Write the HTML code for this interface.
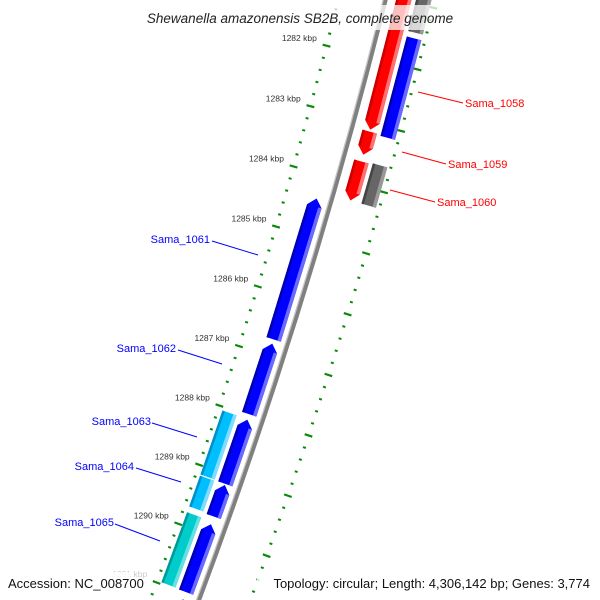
<!DOCTYPE html>
<html><head><meta charset="utf-8"><style>
html,body{margin:0;padding:0;background:#fff;width:600px;height:600px;overflow:hidden;}
svg{display:block;overflow:hidden;font-family:"Liberation Sans",sans-serif;}
</style></head><body>
<svg id="map" width="600" height="600" viewBox="0 0 600 600" xmlns="http://www.w3.org/2000/svg">
<g id="ticks"></g>
<g id="backbone"></g>
<g id="genes"></g>
<g id="labels">
<line x1="418" y1="92" x2="463" y2="103" stroke="#f00" stroke-width="1"/>
<text x="465" y="107" font-size="11" fill="#f00">Sama_1058</text>
<line x1="402" y1="152" x2="446" y2="164" stroke="#f00" stroke-width="1"/>
<text x="448" y="168" font-size="11" fill="#f00">Sama_1059</text>
<line x1="390" y1="190" x2="435" y2="202" stroke="#f00" stroke-width="1"/>
<text x="437" y="206" font-size="11" fill="#f00">Sama_1060</text>
<line x1="212" y1="241" x2="258" y2="255" stroke="#00f" stroke-width="1"/>
<text x="210" y="243" text-anchor="end" font-size="11" fill="#00f">Sama_1061</text>
<line x1="178" y1="350" x2="222" y2="364" stroke="#00f" stroke-width="1"/>
<text x="176" y="352" text-anchor="end" font-size="11" fill="#00f">Sama_1062</text>
<line x1="152" y1="423" x2="197" y2="437" stroke="#00f" stroke-width="1"/>
<text x="151" y="425" text-anchor="end" font-size="11" fill="#00f">Sama_1063</text>
<line x1="136" y1="468" x2="181" y2="482" stroke="#00f" stroke-width="1"/>
<text x="134" y="470" text-anchor="end" font-size="11" fill="#00f">Sama_1064</text>
<line x1="115" y1="524" x2="160" y2="541" stroke="#00f" stroke-width="1"/>
<text x="114" y="526" text-anchor="end" font-size="11" fill="#00f">Sama_1065</text>
</g>
<rect x="125" y="5" width="350" height="25" fill="#fff" opacity="0.75"/>
<text x="300" y="23" text-anchor="middle" font-size="13.5" font-style="italic" fill="#222">Shewanella amazonensis SB2B, complete genome</text>
<rect x="5" y="572" width="125" height="20" fill="#fff" opacity="0.8"/>
<rect x="257" y="572" width="338" height="20" fill="#fff" opacity="0.8"/>
<text x="8" y="588" font-size="13" fill="#111">Accession: NC_008700</text>
<text x="590" y="588" text-anchor="end" font-size="13" fill="#111">Topology: circular; Length: 4,306,142 bp; Genes: 3,774</text>
</svg>
<script>
const geneStart = [1280.8, 1281.54, 1283.61, 1280.5, 1283.14, 1283.63, 1284.39, 1286.80, 1288.07, 1289.17, 1289.83, 1291.10, 1288.06, 1289.16, 1289.78];
const geneEnd   = [1281.45, 1283.16, 1284.27, 1283.11, 1283.52, 1284.27, 1286.73, 1287.98, 1289.15, 1289.70, 1290.98, 1292.2, 1289.14, 1289.68, 1290.97];
const geneSlot  = ["outer","outer","outer","red","red","red","inner","inner","inner","inner","inner","inner","cyan","cyan","cyan"];
const geneDir   = [0,0,0,1,1,1,-1,-1,-1,-1,-1,-1,0,0,0];
const geneColor = ["gray","blue","gray","red","red","red","blue","blue","blue","blue","blue","blue","sky","sky","teal"];
const majorTicks = [1281,1282,1283,1284,1285,1286,1287,1288,1289,1290,1291];
const tickLabels = ["1281 kbp","1282 kbp","1283 kbp","1284 kbp","1285 kbp","1286 kbp","1287 kbp","1288 kbp","1289 kbp","1290 kbp","1291 kbp"];

const NS="http://www.w3.org/2000/svg";
const CX=-4955, CY=-1331;
const SLOT_R={cyan:5470, inner:5489, red:5522, outer:5541};
const W=15;
const PAL={red:["#f00","#ff7070","#c00"],blue:["#00f","#6a6aff","#0000b0"],gray:["#666","#999","#444"],sky:["#00bfff","#7fdcff","#0090c8"],teal:["#00cccc","#66e0e0","#009999"]};
function ang(k){return (14.61+0.657*(k-1282))*Math.PI/180;}
function pt(r,k){const a=ang(k);return [CX+r*Math.cos(a),CY+r*Math.sin(a)];}
function mk(tag,attrs,parent){const e=document.createElementNS(NS,tag);for(const k in attrs)e.setAttribute(k,attrs[k]);parent.appendChild(e);return e;}
function P(a){return a.map(p=>p[0].toFixed(2)+","+p[1].toFixed(2)).join(" ");}

const tg=document.getElementById('ticks');
function tickRing(R,withLabels,prefix){
  for(let i=0;i<=56;i++){
    const k=1280.8+i*0.2;
    const isMajor=Math.abs(k-Math.round(k))<0.01;
    const len=isMajor?8:3;
    const a=pt(R-len/2,k), b=pt(R+len/2,k);
    const l=mk('line',{x1:a[0],y1:a[1],x2:b[0],y2:b[1],stroke:'#0a8a0a','stroke-width':isMajor?2.2:2},tg);
    
    
  }
  if(withLabels){
    majorTicks.forEach((k,i)=>{
      const p=pt(R-10,k);
      const t=mk('text',{x:p[0],y:p[1]-2,'text-anchor':'end','font-size':'8.5',fill:k>=1291?'#ccc':'#333'},tg);
      t.textContent=tickLabels[i];
      
      
    });
  }
}
tickRing(5458,true,'inner');
tickRing(5552,false,'outer');

const bg=document.getElementById('backbone');
function arc(R,k0,k1,stroke,w){
  const a=pt(R,k0),b=pt(R,k1);
  return mk('path',{d:`M${a[0]},${a[1]} A${R},${R} 0 0 1 ${b[0]},${b[1]}`,fill:'none',stroke:stroke,'stroke-width':w},bg);
}
const bb=arc(5504,1280.0,1291.8,'#808080',4);


const bb2=arc(5501.5,1280.0,1291.8,'#c4c4c4',1.2);



const gg=document.getElementById('genes');
const TIPK=8/(5500*0.657*Math.PI/180);
geneStart.forEach((s,i)=>{
  const e=geneEnd[i], R=SLOT_R[geneSlot[i]], ri=R-W/2, ro=R+W/2, d=geneDir[i];
  const c=PAL[geneColor[i]];
  let pts;
  if(d===1){const t=Math.max(s,e-TIPK);pts=[pt(ri,s),pt(ro,s),pt(ro,t),pt(R,e),pt(ri,t)];}
  else if(d===-1){const t=Math.min(e,s+TIPK);pts=[pt(R,s),pt(ro,t),pt(ro,e),pt(ri,e),pt(ri,t)];}
  else pts=[pt(ri,s),pt(ro,s),pt(ro,e),pt(ri,e)];
  const g=mk('polygon',{points:P(pts),fill:c[0]},gg);
  
  
  const hs=d===-1?Math.min(e,s+TIPK):s, he=d===1?Math.max(s,e-TIPK):e;
  const h=mk('polygon',{points:P([pt(ro-3.5,hs),pt(ro,hs),pt(ro,he),pt(ro-3.5,he)]),fill:c[1]},gg);
  
  
  const sh=mk('polygon',{points:P([pt(ri,hs),pt(ri+2.5,hs),pt(ri+2.5,he),pt(ri,he)]),fill:c[2]},gg);
  
  
});
</script>
</body></html>
